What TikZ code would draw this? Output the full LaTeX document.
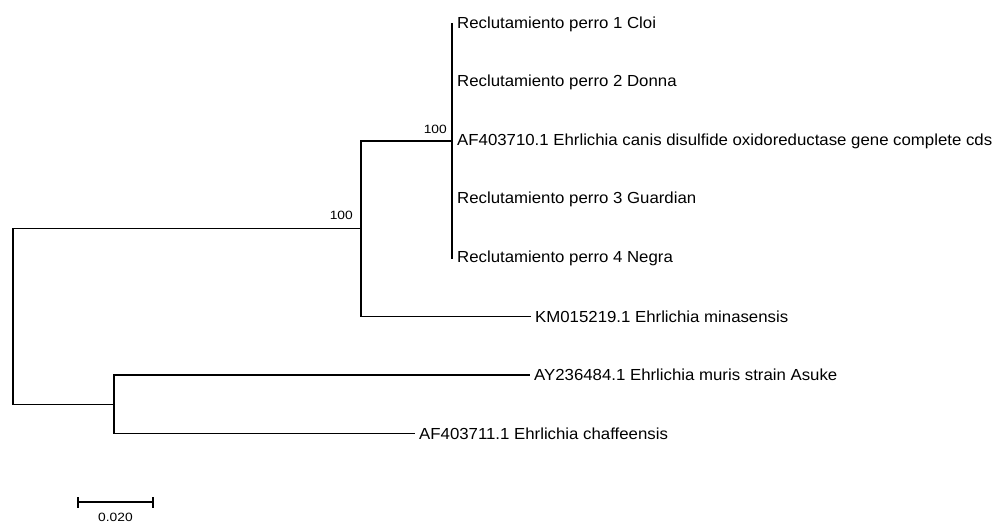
\documentclass[tikz,border=0pt]{standalone}
\usepackage{fontspec}
\setmainfont{Liberation Sans}
\newfontfamily\leaffont[FakeStretch=1.05]{Liberation Sans}
\newfontfamily\bootfont[FakeStretch=1.15]{Liberation Sans}
\usetikzlibrary{positioning}
\tikzset{
  branch/.style={line width=1.3pt},
  leaf/.style={anchor=west, inner sep=4pt, font=\leaffont\fontsize{16}{19}\selectfont},
  boot/.style={inner sep=0pt, font=\bootfont\fontsize{12}{14}\selectfont},
}

\begin{document}
\begin{tikzpicture}[x=1pt,y=-1pt]
    \useasboundingbox (0,0) rectangle (997,523);

    \coordinate (R) at (13,316.5);
    \coordinate (A) at (361,228.75);
    \coordinate (B) at (452,141);
    \coordinate (C) at (114,404.25);
    \coordinate (S1) at (78,502);
    \coordinate (S2) at (153,502);
    \coordinate (SM) at (115.5,502);

    \node[leaf] (cloi) at (453,24) {Reclutamiento perro 1 Cloi};
    \node[leaf] (donna) at (453,82.5) {Reclutamiento perro 2 Donna};
    \node[leaf] (canis) at (453,141) {AF403710.1 Ehrlichia canis disulfide oxidoreductase gene complete cds};
    \node[leaf] (guardian) at (453,199.5) {Reclutamiento perro 3 Guardian};
    \node[leaf] (negra) at (453,258) {Reclutamiento perro 4 Negra};
    \node[leaf] (mina) at (531,316.5) {KM015219.1 Ehrlichia minasensis};
    \node[leaf] (muris) at (530,375) {AY236484.1 Ehrlichia muris strain Asuke};
    \node[leaf] (chaff) at (415,433.5) {AF403711.1 Ehrlichia chaffeensis};

    \draw[branch] (R) |- (A) (R) |- (C);
    \draw[branch] (A) |- (B) (A) |- (mina.west);
    \draw[branch] (B) |- (cloi.west) (B) |- (negra.west);
    \draw[branch] (C) |- (muris.west) (C) |- (chaff.west);

    \node[boot, above left=9pt and 8pt of A] (bootA) {100};
    \node[boot, above left=7pt and 5pt of B] (bootB) {100};

    \draw[branch] (S1) -- (S2);
    \draw[branch] ([yshift=-5.5]S1) -- ([yshift=5.5]S1) ([yshift=-5.5]S2) -- ([yshift=5.5]S2);
    \node[boot, below=11pt of SM] (scale) {0.020};
\end{tikzpicture}
\end{document}
